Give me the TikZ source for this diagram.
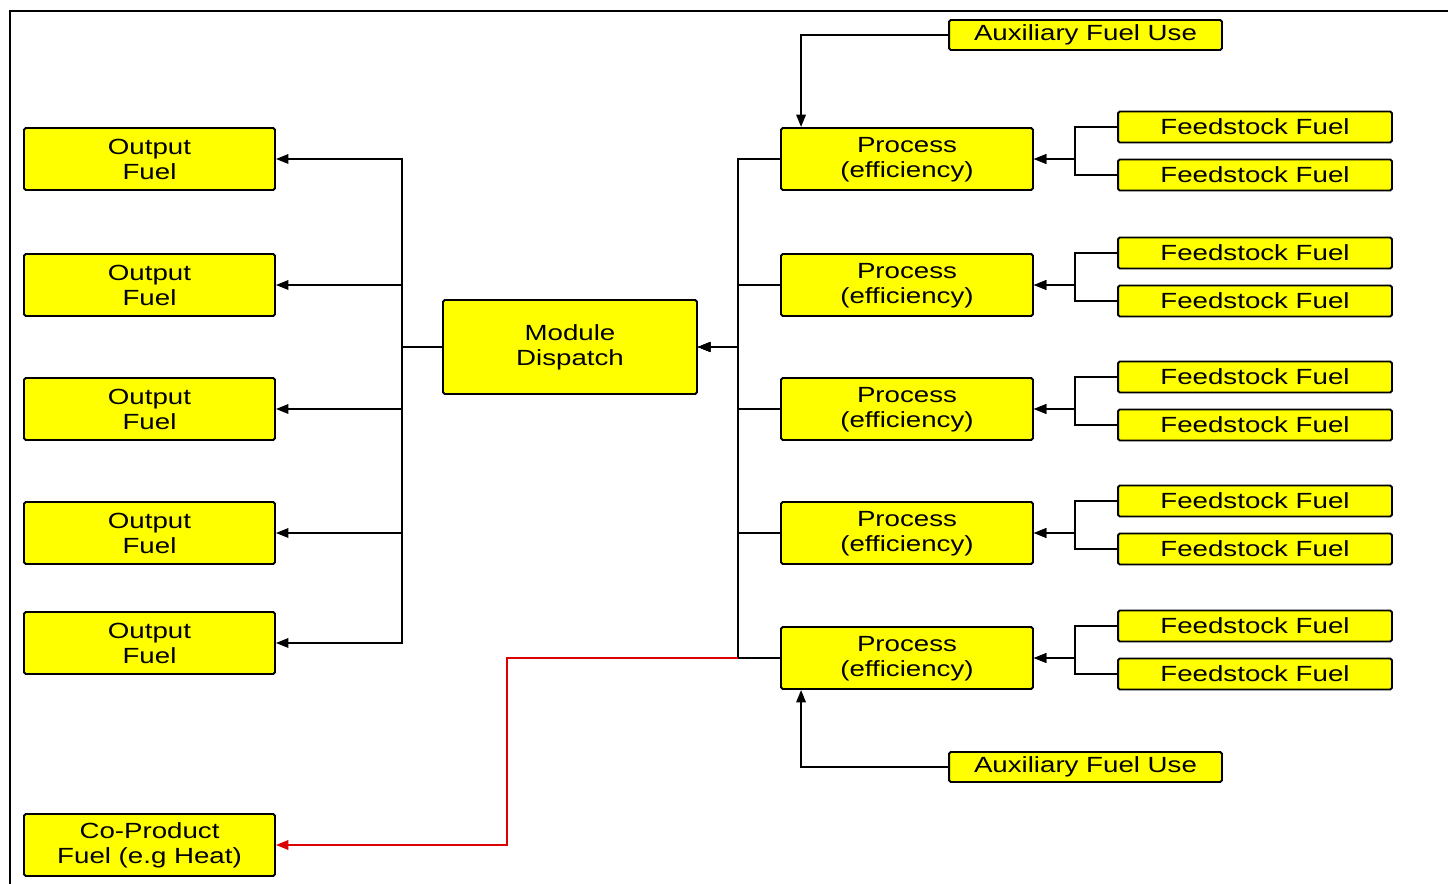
\documentclass[tikz,border=0pt]{standalone}
\usepackage{fontspec}
\setmainfont{Liberation Sans}[FakeStretch=1.26]
\usepackage{xcolor}
\usetikzlibrary{calc, arrows.meta, positioning}
\definecolor{boxyellow}{RGB}{255,255,0}
\definecolor{linered}{RGB}{220,0,0}

\begin{document}
\begin{tikzpicture}[
  x=0.02cm, y=-0.02cm,
  >={Triangle[length=2.5mm, width=1.9mm]},
  every node/.style={font=\fontsize{12.5}{14.2}\selectfont},
  fuelbox/.style={draw=black, fill=boxyellow, line width=1.1pt, align=center,
    rounded corners=1pt, inner sep=0pt, minimum width=5.02cm, minimum height=1.24cm},
  feedbox/.style={fuelbox, minimum width=5.48cm, minimum height=0.62cm},
  link/.style={line width=1.1pt, ->}
]
\useasboundingbox (0,0) rectangle (1448,884);
\draw[line width=1.1pt] (10,884) -- (10,11) -- (1448,11);
% output side
\foreach \i/\y in {1/159, 2/285, 3/409, 4/533, 5/643}{
  \node[fuelbox] (out\i) at (149.5,\y) {Output\\Fuel};
}
\node[fuelbox] (coprod) at (149.5,845) {Co-Product\\Fuel (e.g Heat)};
\node[fuelbox, minimum width=5.08cm, minimum height=1.88cm] (mod) at (570,347)
  {Module\\Dispatch};
% process side
\foreach \i/\y in {1/159, 2/285, 3/409, 4/533, 5/658}{
  \node[fuelbox, minimum width=5.04cm, text depth=0.3ex] (proc\i) at (907,\y)
    {Process\\(efficiency)};
  \node[feedbox] (fa\i) at (1255,\y-32) {Feedstock Fuel};
  \node[feedbox] (fb\i) at (1255,\y+16) {Feedstock Fuel};
  \draw[link] (fa\i.west) -- ++(-42,0) |- (proc\i.east);
  \draw[link] (fb\i.west) -- ++(-42,0) |- (proc\i.east);
  \draw[link] (proc\i.west) -- ++(-42,0) |- (mod.east);
}
\node[feedbox, minimum width=5.46cm, minimum height=0.6cm] (auxtop) at (1085.5,35)
  {Auxiliary Fuel Use};
\node[feedbox, minimum width=5.46cm, minimum height=0.6cm] (auxbot) at (1085.5,767)
  {Auxiliary Fuel Use};
\draw[link] (auxtop.west) -| ($(proc1.north west)+(21,0)$);
\draw[link] (auxbot.west) -| ($(proc5.south west)+(21,0)$);
% dispatch to outputs
\foreach \i in {1,...,5}{
  \draw[link] (mod.west) -- ++(-40,0) |- (out\i.east);
}
% co-product
\coordinate (cojoin) at ($(proc5.west)+(-42,0)$);
\draw[link, linered] (cojoin) -| (507,845) -- (coprod.east);
\end{tikzpicture}
\end{document}
